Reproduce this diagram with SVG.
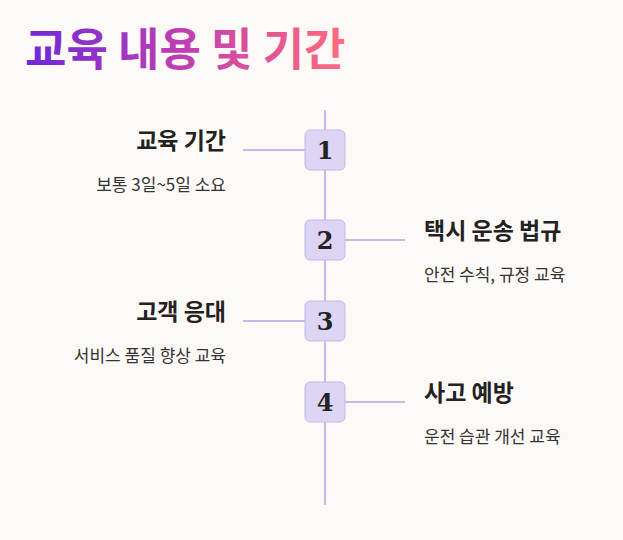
<svg xmlns="http://www.w3.org/2000/svg" width="623" height="540" viewBox="0 0 623 540">
<defs>
<linearGradient id="g" x1="0" x2="1" y1="0" y2="0"><stop offset="0" stop-color="#6d28d9"/><stop offset="0.5" stop-color="#c040b0"/><stop offset="1" stop-color="#ff6b7d"/></linearGradient>
<style>
.t{font-family:"Noto Sans CJK KR","Noto Sans",sans-serif;fill:#222}
.h{font-size:23px;font-weight:bold}
.s{font-size:17px;fill:#333}
.n{font-family:"DejaVu Serif","Liberation Serif",serif;font-size:24px;font-weight:bold;fill:#222;text-anchor:middle}
.b{fill:#ddd5f3;stroke:#c5b9e6;stroke-width:1}
.c{stroke:#c5b9e6;stroke-width:2;fill:none}
</style>
</defs>
<rect width="623" height="540" fill="#fdf9f6"/>
<text x="25" y="66" font-family="Noto Sans CJK KR,sans-serif" font-size="45" font-weight="bold" fill="url(#g)">교육 내용 및 기간</text>
<g id="connectors">
<line class="c" x1="325" y1="110" x2="325" y2="505"/>
<line class="c" x1="243" y1="150" x2="305" y2="150"/>
<line class="c" x1="345" y1="240" x2="405" y2="240"/>
<line class="c" x1="243" y1="321" x2="305" y2="321"/>
<line class="c" x1="345" y1="402" x2="405" y2="402"/>
</g>
<g id="n1"><rect class="b" x="305" y="130" width="40" height="40" rx="5"/><text class="n" x="325" y="159">1</text>
<text class="t h" x="226" y="149" text-anchor="end">교육 기간</text><text class="t s" x="226" y="191" text-anchor="end">보통 3일~5일 소요</text></g>
<g id="n2"><rect class="b" x="305" y="220" width="40" height="40" rx="5"/><text class="n" x="325" y="249">2</text>
<text class="t h" x="424" y="239">택시 운송 법규</text><text class="t s" x="424" y="281">안전 수칙, 규정 교육</text></g>
<g id="n3"><rect class="b" x="305" y="301" width="40" height="40" rx="5"/><text class="n" x="325" y="330">3</text>
<text class="t h" x="226" y="320" text-anchor="end">고객 응대</text><text class="t s" x="226" y="362" text-anchor="end">서비스 품질 향상 교육</text></g>
<g id="n4"><rect class="b" x="305" y="382" width="40" height="40" rx="5"/><text class="n" x="325" y="411">4</text>
<text class="t h" x="424" y="401">사고 예방</text><text class="t s" x="424" y="443">운전 습관 개선 교육</text></g>
</svg>
